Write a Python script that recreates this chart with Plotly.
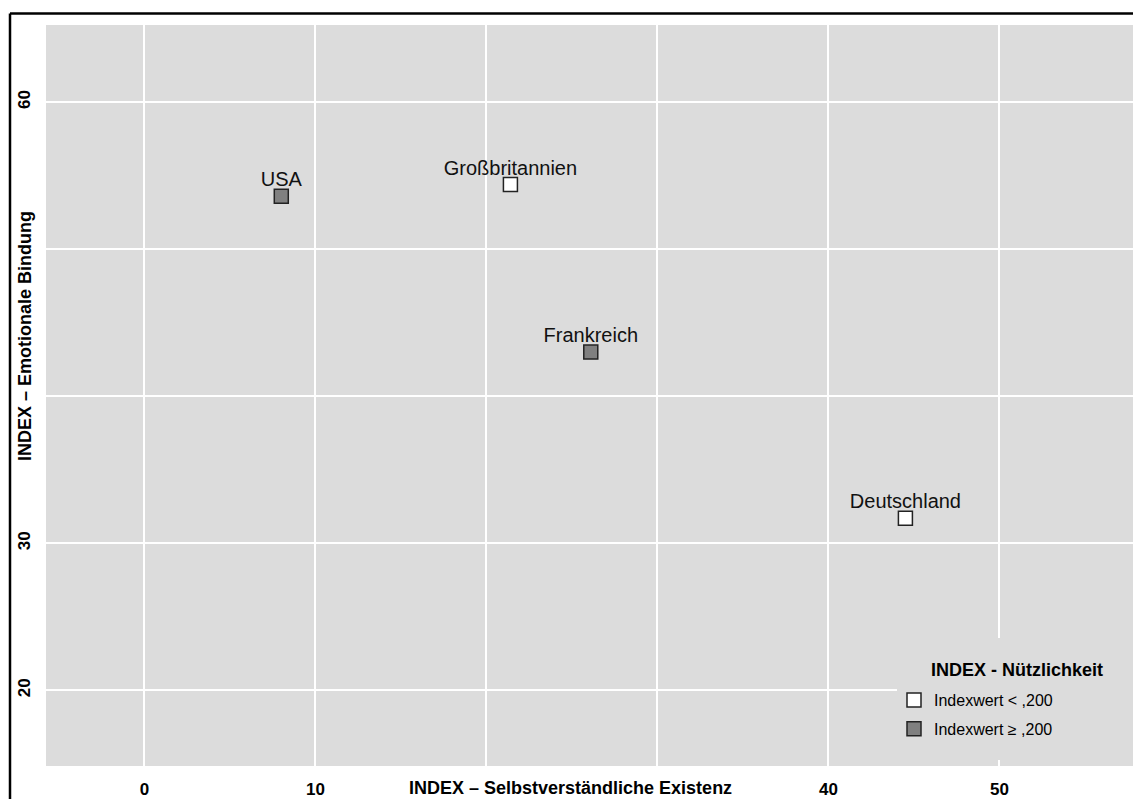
import plotly.graph_objects as go

# Data
countries = ["USA", "Großbritannien", "Frankreich", "Deutschland"]
existenz = [8.0, 21.4, 26.1, 44.5]          # x: INDEX – Selbstverständliche Existenz
bindung = [53.6, 54.4, 43.0, 31.7]          # y: INDEX – Emotionale Bindung
nuetzlich_group = ["high", "low", "high", "low"]  # INDEX - Nützlichkeit

group_names = {"low": "Indexwert < ,200", "high": "Indexwert ≥ ,200"}
group_colors = {"low": "#FFFFFF", "high": "#808080"}
group_order = ["low", "high"]
legend_title = "INDEX - Nützlichkeit"

x_ticks = [0, 10, 20, 30, 40, 50]
x_ticktext = ["0", "10", "", "", "40", "50"]
y_ticks = [20, 30, 40, 50, 60]
y_ticktext = ["20", "30", "", "", "60"]

FONT = "Liberation Sans, Arial, Helvetica, sans-serif"

fig = go.Figure()
for g in group_order:
    idx = [i for i, v in enumerate(nuetzlich_group) if v == g]
    fig.add_trace(go.Scatter(
        x=[existenz[i] for i in idx],
        y=[bindung[i] for i in idx],
        mode="markers",
        marker=dict(symbol="square", size=14, color=group_colors[g],
                    line=dict(color="#222222", width=1.5)),
        name=group_names[g],
        legendgroup=g,
        hoverinfo="skip",
    ))

# country labels (text above the markers)
fig.add_trace(go.Scatter(
    x=existenz, y=bindung, text=countries,
    mode="markers+text", textposition="top center",
    textfont=dict(family=FONT, size=20, color="#111111"),
    marker=dict(size=6, opacity=0),
    showlegend=False, hoverinfo="skip",
))

W, H = 1133, 799
L, R, T, B = 46, 0, 25, 33
PW, PH = W - L - R, H - T - B


def px(xp):
    return (xp - L) / PW


def py(yp):
    return (H - B - yp) / PH


fig.update_layout(
    width=W, height=H,
    margin=dict(l=L, r=R, t=T, b=B, pad=0, autoexpand=False),
    paper_bgcolor="white",
    plot_bgcolor="#DCDCDC",
    font=dict(family=FONT, color="black"),
    showlegend=True,
    legend=dict(
        x=px(894), y=py(683),
        xanchor="left", yanchor="top",
        bgcolor="rgba(0,0,0,0)",
        font=dict(family=FONT, size=16, color="black"),
        traceorder="grouped",
        tracegroupgap=5,
        itemwidth=30,
    ),
    xaxis=dict(
        range=[-5.76, 57.81],
        tickvals=x_ticks, ticktext=x_ticktext,
        showgrid=True, gridcolor="white", gridwidth=1.6,
        zeroline=False, showline=False, automargin=False,
        ticks="outside", ticklen=8, tickcolor="rgba(0,0,0,0)",
        tickfont=dict(family=FONT, size=17, color="black", weight="bold"),
    ),
    yaxis=dict(
        range=[14.85, 65.24],
        tickvals=y_ticks, ticktext=y_ticktext,
        showgrid=True, gridcolor="white", gridwidth=1.6,
        zeroline=False, showline=False, automargin=False,
        ticks="outside", ticklen=8, tickcolor="rgba(0,0,0,0)",
        tickangle=-90,
        tickfont=dict(family=FONT, size=17, color="black", weight="bold"),
    ),
    annotations=[
        dict(text="INDEX – Selbstverständliche Existenz", xref="paper", yref="paper",
             x=px(570), y=py(788),
             xanchor="center", yanchor="middle", showarrow=False,
             font=dict(family=FONT, size=18, color="black", weight="bold")),
        dict(text="INDEX – Emotionale Bindung", xref="paper", yref="paper",
             x=px(25), y=py(336),
             xanchor="center", yanchor="middle", showarrow=False, textangle=-90,
             font=dict(family=FONT, size=18, color="black", weight="bold")),
        dict(text=legend_title, xref="paper", yref="paper",
             x=px(929), y=py(670),
             xanchor="left", yanchor="middle", showarrow=False,
             font=dict(family=FONT, size=18, color="black", weight="bold")),
    ],
    shapes=[
        # legend background box (hides grid lines behind the legend)
        dict(type="rect", xref="paper", yref="paper", layer="above",
             x0=px(897), x1=1.0, y0=py(760), y1=py(638),
             fillcolor="#DCDCDC", line=dict(width=0)),
        dict(type="line", xref="paper", yref="paper",
             x0=px(10), x1=px(10), y0=py(13.5), y1=py(805),
             line=dict(color="black", width=2.5)),
        dict(type="line", xref="paper", yref="paper",
             x0=px(10), x1=1.01, y0=py(13.5), y1=py(13.5),
             line=dict(color="black", width=2.5)),
    ],
)

fig.write_html("out.html", config={"displayModeBar": False},
               post_script="document.body.style.margin='0';document.body.style.overflow='hidden';")
